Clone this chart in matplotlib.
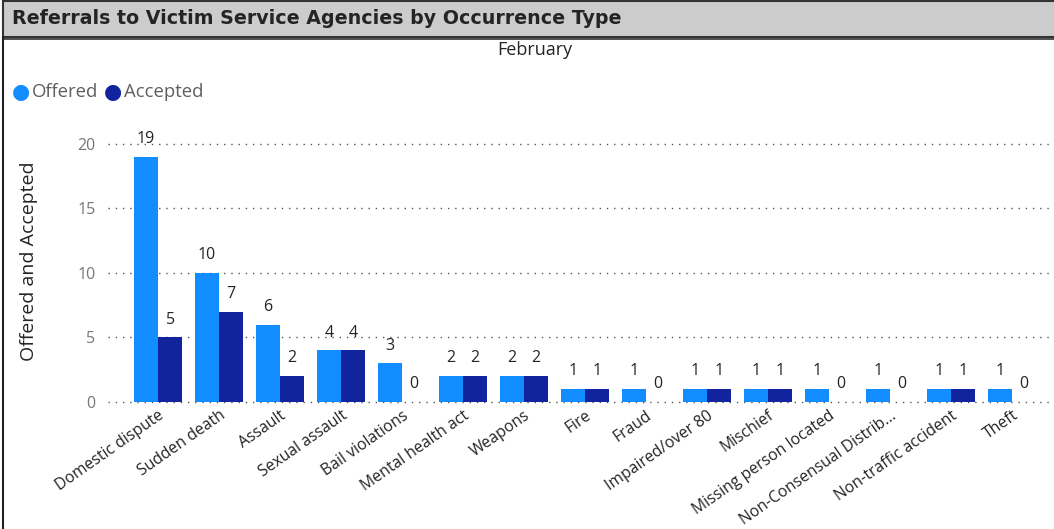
import matplotlib
matplotlib.use("Agg")
import matplotlib.pyplot as plt
from matplotlib.patches import Rectangle
from matplotlib.lines import Line2D
import numpy as np

# 数据
categories = ["Domestic dispute", "Sudden death", "Assault", "Sexual assault",
              "Bail violations", "Mental health act", "Weapons", "Fire", "Fraud",
              "Impaired/over 80", "Mischief", "Missing person located",
              "Non-Consensual Distrib...", "Non-traffic accident", "Theft"]
offered = [19, 10, 6, 4, 3, 2, 2, 1, 1, 1, 1, 1, 1, 1, 1]
accepted = [5, 7, 2, 4, 0, 2, 2, 1, 0, 1, 1, 0, 0, 1, 0]
yticks = [0, 5, 10, 15, 20]

c_off = "#118DFF"
c_acc = "#12239E"

W, H = 1054, 529
fig = plt.figure(figsize=(W / 100, H / 100), dpi=100)
plt.rcParams['font.family'] = ['Open Sans', 'DejaVu Sans']

# 标题栏
fig.patches.append(Rectangle((3 / W, 1 - 37 / H), 1.0, 36 / H, transform=fig.transFigure,
                             facecolor="#cccccc", edgecolor="#333333", linewidth=1.5))
fig.add_artist(Line2D([3 / W, 1], [1 - 39 / H, 1 - 39 / H], color="#333333", lw=1.2))
fig.add_artist(Line2D([3 / W, 3 / W], [0, 1 - 37 / H], color="#222222", lw=1.5))
fig.text(12 / W, 1 - 18 / H, "Referrals to Victim Service Agencies by Occurrence Type",
         fontsize=13.7, fontweight="bold", color="#252423", va="center", ha="left",
         family="DejaVu Sans")

fig.text(535 / W, 1 - 50 / H, "February", fontsize=13, color="#252423", ha="center", va="center")

# 图例
fig.text(12 / W, 1 - 92 / H, "\u25cf", fontsize=15, color=c_off, va="center", ha="left", family="DejaVu Sans")
fig.text(32 / W, 1 - 92 / H, "Offered", fontsize=13.3, color="#605e5c", va="center", ha="left")
fig.text(104 / W, 1 - 92 / H, "\u25cf", fontsize=15, color=c_acc, va="center", ha="left", family="DejaVu Sans")
fig.text(124 / W, 1 - 92 / H, "Accepted", fontsize=13.3, color="#605e5c", va="center", ha="left")

ax = fig.add_axes([108 / W, 1 - 402 / H, 1 - 108 / W, (402 - 120) / H])
x = np.arange(len(categories))
w = 0.4
b1 = ax.bar(x - w / 2, offered, w, color=c_off)
b2 = ax.bar(x + w / 2, accepted, w, color=c_acc)
for bars, vals in ((b1, offered), (b2, accepted)):
    for r, v in zip(bars, vals):
        ax.annotate(str(v), (r.get_x() + r.get_width() / 2, v), xytext=(0, 7),
                    textcoords="offset points", ha="center", va="bottom",
                    fontsize=11.5, color="#252423")

ax.set_xlim(-0.82, 14.69)
ax.set_ylim(0, 21.86)
ax.set_yticks(yticks)
ax.set_axisbelow(True)
ax.yaxis.grid(True, color="#555555", linestyle=(0, (1, 4.2)), linewidth=1.0)
for gl in ax.get_ygridlines():
    gl.set_clip_on(False)
for s in ax.spines.values():
    s.set_visible(False)
ax.tick_params(axis="both", length=0)
ax.tick_params(axis="y", labelsize=11.5, labelcolor="#777777", pad=9)
ax.set_xticks(x)
ax.set_xticklabels(categories, rotation=35, ha="right", rotation_mode="anchor",
                   fontsize=11.3, color="#252423")
ax.tick_params(axis="x", pad=4)
ax.set_ylabel("Offered and Accepted", fontsize=14, color="#252423", labelpad=28)

fig.savefig("out.png", dpi=100)
